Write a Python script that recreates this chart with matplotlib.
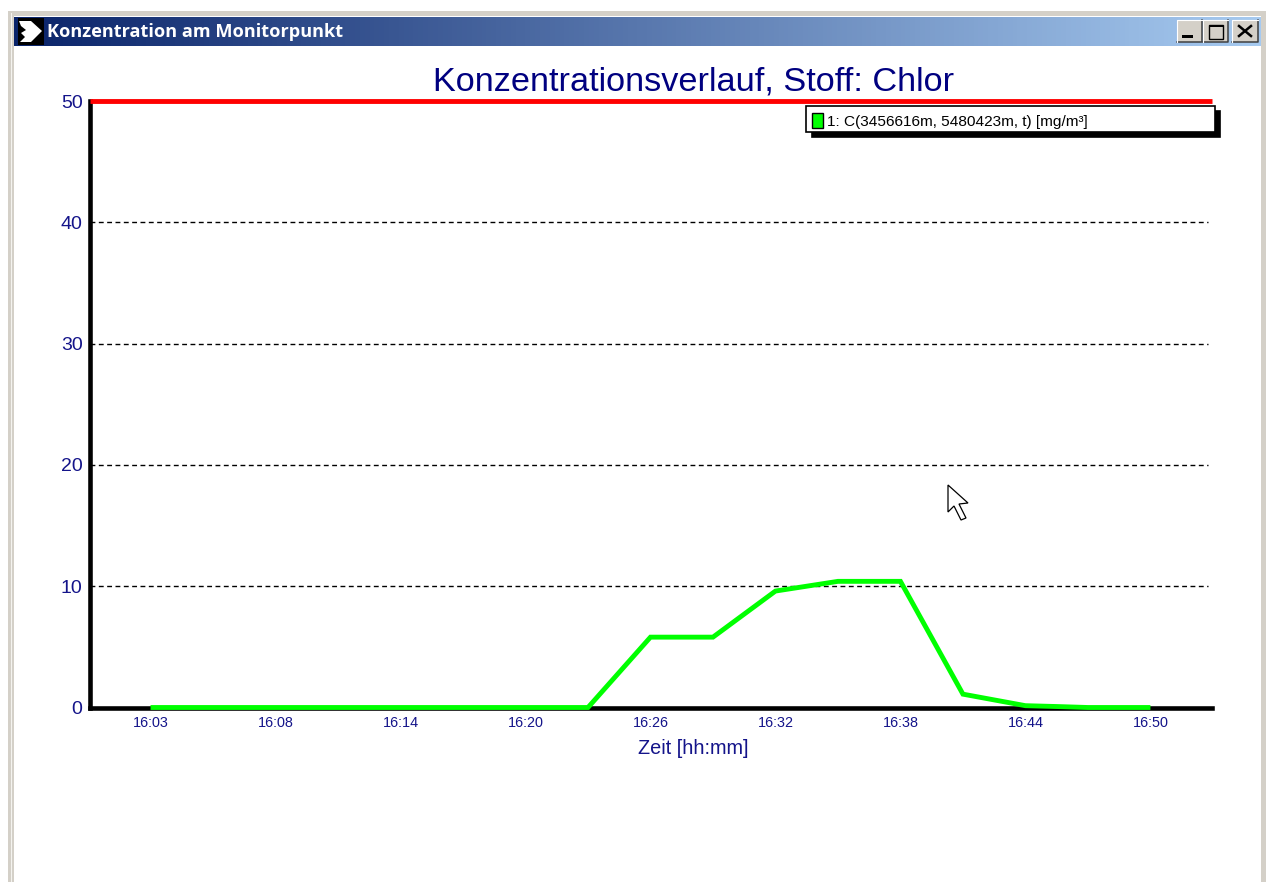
import matplotlib
matplotlib.use("Agg")
import matplotlib.pyplot as plt
from matplotlib.patches import Patch, Polygon, Rectangle
import numpy as np

# Werte aus dem Bild (Minuten ab Beginn, 6 min = ein Tick-Abstand)
minutes = [0, 3, 6, 9, 12, 15, 18, 21, 24, 27, 30, 33, 36, 39, 42, 43.5, 45, 48]
conc = [0, 0, 0, 0, 0, 0, 0, 0, 5.8, 5.8, 9.6, 10.4, 10.4, 1.1, 0.15, 0.08, 0, 0]
tick_minutes = [0, 6, 12, 18, 24, 30, 36, 42, 48]
tick_labels = ["16:03", "16:08", "16:14", "16:20", "16:26", "16:32", "16:38", "16:44", "16:50"]
y_ticks = [0, 10, 20, 30, 40, 50]
grid_levels = [10, 20, 30, 40]
limit = 50

W, H = 1266, 882
NAVY = "#000080"
LABEL = "#14148a"
plt.rcParams["font.family"] = ["Liberation Sans", "DejaVu Sans"]

fig = plt.figure(figsize=(W / 100, H / 100), dpi=100, facecolor="white")

# Plotbereich in Pixeln
left, right, top, bottom = 89.5, 1212.5, 101, 707.5
ax = fig.add_axes([left / W, 1 - bottom / H, (right - left) / W, (bottom - top) / H])
ax.set_xlim(-2.93, 50.98)
ax.set_ylim(0, 50)
ax.patch.set_visible(False)

for side in ["top", "right"]:
    ax.spines[side].set_visible(False)
for side in ["left", "bottom"]:
    ax.spines[side].set_linewidth(3.3)
    ax.spines[side].set_color("black")

ax.hlines(grid_levels, -2.93, 50.74, colors="black", linewidth=1, linestyles=(0, (3.5, 2.5)), zorder=1)
ax.axhline(limit, color="#ff0000", linewidth=3.5, zorder=4, clip_on=False, solid_capstyle="butt")
line, = ax.plot(minutes, conc, color="#00ff00", linewidth=3.5, zorder=3, clip_on=False,
                solid_joinstyle="miter", solid_capstyle="butt")

ax.set_xticks(tick_minutes)
ax.set_xticklabels(tick_labels, fontsize=10.4, color=LABEL)
ax.set_yticks(y_ticks)
ax.tick_params(axis="y", length=0, pad=5, labelsize=14, labelcolor=LABEL)
ax.tick_params(axis="x", length=0, pad=6)
ax.set_xlabel("Zeit [hh:mm]", fontsize=14.3, color=LABEL, x=0.5374, labelpad=6.5)
fig.text(694 / W, 1 - 90.5 / H, "Konzentrationsverlauf, Stoff: Chlor", fontsize=24.7,
         color=NAVY, ha="center", va="baseline")

# Legende
leg = ax.legend(
    handles=[Patch(facecolor="#00ff00", edgecolor="black", linewidth=1,
                   label="1: C(3456616m, 5480423m, t) [mg/m³]")],
    loc="upper left", bbox_to_anchor=(806 / W, 1 - 134 / H, 408.5 / W, 28.5 / H),
    bbox_transform=fig.transFigure, mode="expand", fontsize=11.05, frameon=True, fancybox=False,
    framealpha=1, edgecolor="black", borderaxespad=0, borderpad=0.36, handlelength=0.78,
    handleheight=1.1, handletextpad=0.25,
    shadow={"color": "black", "alpha": 1, "ox": 4.3, "oy": -3.8},
)
leg.get_frame().set_linewidth(1.2)
leg.set_zorder(6)
# Text und Farbfeld sitzen im Original etwas tiefer im Kasten
leg.get_texts()[0].set_position((0, -2))
leg.legend_handles[0].set_y(leg.legend_handles[0].get_y() - 1.5)

# Fensterrahmen, Titelleiste, Mauszeiger in Pixelkoordinaten
chrome = fig.add_axes([0, 0, 1, 1], zorder=5)
chrome.set_xlim(0, W)
chrome.set_ylim(H, 0)
chrome.axis("off")

frame = "#d4d0c8"
chrome.add_patch(Rectangle((8, 11), 1258, 5, color=frame, lw=0))
chrome.add_patch(Rectangle((8, 11), 6, H - 11, color=frame, lw=0))
chrome.add_patch(Rectangle((10.5, 13), 1.5, H - 13, color="#f4f3ef", lw=0))
chrome.add_patch(Rectangle((1261, 11), 5, H - 11, color=frame, lw=0))

grad = np.linspace(0, 1, 256)[None, :]
cmap = matplotlib.colors.LinearSegmentedColormap.from_list("bar", ["#0a246a", "#a6caf0"])
chrome.imshow(grad, extent=(14, 1261, 46, 17), cmap=cmap, aspect="auto", zorder=1)
chrome.set_xlim(0, W)
chrome.set_ylim(H, 0)

chrome.add_patch(Rectangle((18, 18), 26, 27, color="black", lw=0, zorder=2))
chrome.add_patch(Polygon([(19, 21), (31, 21), (42, 31), (31, 42), (20, 42), (25, 37),
                          (21, 33), (26, 30), (21, 26)], color="white", lw=0, zorder=3))
chrome.text(47, 32, "Konzentration am Monitorpunkt", fontsize=13.1, fontweight="bold",
            family=["Open Sans", "DejaVu Sans"], color="white", va="center", ha="left", zorder=3)

for x0, x1 in [(1177, 1202), (1203, 1228), (1232, 1258)]:
    chrome.add_patch(Rectangle((x0, 20), x1 - x0, 22, facecolor=frame, edgecolor="none", zorder=2))
    chrome.plot([x0, x1, x1], [42, 42, 20], color="#404040", lw=1.1, zorder=3)
    chrome.plot([x0, x0, x1], [42, 20, 20], color="white", lw=0.8, zorder=3)
chrome.add_patch(Rectangle((1182, 35), 11, 3, color="black", lw=0, zorder=3))
chrome.add_patch(Rectangle((1208.5, 24.5), 14, 14, fill=False, edgecolor="black", lw=1, zorder=3))
chrome.add_patch(Rectangle((1208.5, 24.5), 14, 2, color="black", lw=0, zorder=3))
chrome.plot([1239, 1251], [26, 36], color="black", lw=1.8, zorder=3)
chrome.plot([1251, 1239], [26, 36], color="black", lw=1.8, zorder=3)

chrome.add_patch(Polygon([(948, 485), (968, 503), (959, 504), (966, 518), (961, 520),
                          (954, 506), (948, 512)], closed=True, facecolor="white",
                         edgecolor="black", lw=0.9, zorder=4))

fig.savefig("out.png", dpi=100)
